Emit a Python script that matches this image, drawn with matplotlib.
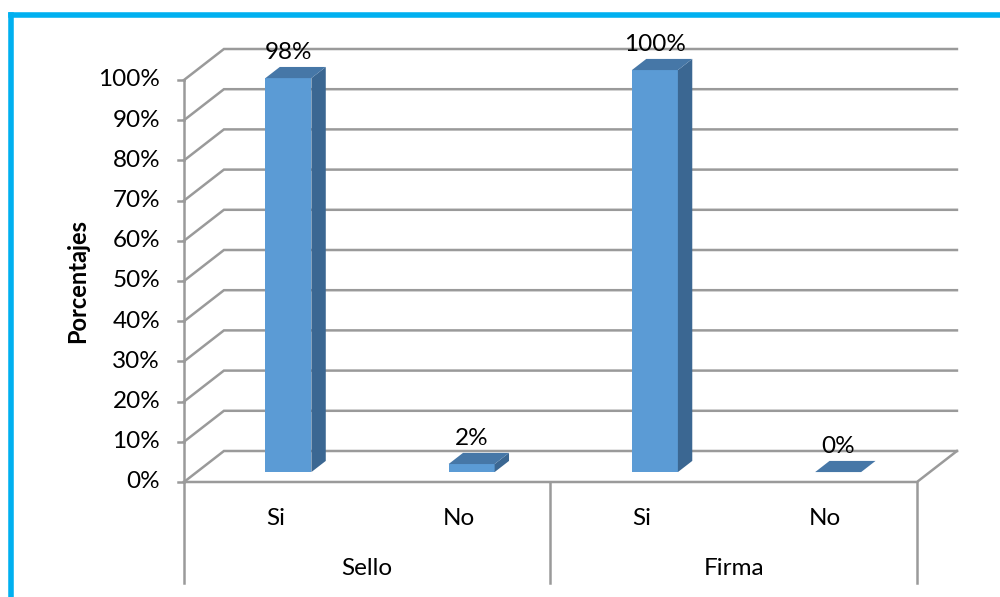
import matplotlib.pyplot as plt
from matplotlib.patches import Polygon
from matplotlib.lines import Line2D

# datos de la encuesta
grupos = ["Sello", "Firma"]
respuestas = ["Si", "No"]
porcentajes = [98, 2, 100, 0]
etiquetas = ["98%", "2%", "100%", "0%"]
ticks_y = list(range(0, 101, 10))

plt.rcParams['font.family'] = ['Lato', 'DejaVu Sans']

# profundidad de la perspectiva (unidades de categoria / porcentaje)
DX, DY = 0.218, 7.71
F0, F1 = 0.32, 0.68
ANCHO = 0.251
GRIS = '#9a9a9a'
FRENTE, LADO, TAPA = '#5b9bd5', '#3b6792', '#4677a7'
FS = 17.5

fig = plt.figure(figsize=(10, 5.97), dpi=100)
ax = fig.add_axes([0, 0, 1, 1])
ax.set_xlim(-1.004, 4.453)
ax.set_ylim(-28.61, 119.9)
ax.axis('off')

n = len(porcentajes)

# pared del fondo y suelo
for t in ticks_y:
    ax.plot([0, DX, n + DX], [t, t + DY, t + DY], color=GRIS, lw=1.8,
            solid_joinstyle='miter', zorder=1)
    ax.plot([-0.035, 0], [t, t], color=GRIS, lw=1.8, zorder=1)
    ax.text(-0.13, t, f"{t}%", ha='right', va='center', fontsize=FS)
ax.plot([0, n, n + DX], [0, 0, DY], color=GRIS, lw=1.8, zorder=1)
ax.plot([0, 0], [100, -25.1], color=GRIS, lw=1.8, zorder=1)
for x in (2, 4):
    ax.plot([x, x], [0, -25.1], color=GRIS, lw=1.8, zorder=1)

# columnas 3D
for i, v in enumerate(porcentajes):
    c = i + 0.5
    x0 = c - ANCHO / 2 + F0 * DX
    x1 = c + ANCHO / 2 + F0 * DX
    y0 = F0 * DY
    ddx, ddy = (F1 - F0) * DX, (F1 - F0) * DY
    if v > 0:
        ax.add_patch(Polygon([(x0, y0), (x1, y0), (x1, y0 + v), (x0, y0 + v)],
                             closed=True, fc=FRENTE, ec='none', zorder=3))
        ax.add_patch(Polygon([(x1, y0), (x1 + ddx, y0 + ddy),
                              (x1 + ddx, y0 + ddy + v), (x1, y0 + v)],
                             closed=True, fc=LADO, ec='none', zorder=3))
    ax.add_patch(Polygon([(x0, y0 + v), (x1, y0 + v), (x1 + ddx, y0 + v + ddy),
                          (x0 + ddx, y0 + v + ddy)],
                         closed=True, fc=TAPA, ec='none', zorder=4))
    ax.text(c + F0 * DX, v + F1 * DY + 1.0, etiquetas[i], ha='center',
            va='bottom', fontsize=FS, zorder=5)
    ax.text(c, -8.96, respuestas[i % 2], ha='center', va='center', fontsize=FS)

for g, nombre in enumerate(grupos):
    ax.text(2 * g + 1, -21.4, nombre, ha='center', va='center', fontsize=FS)

ax.text(-0.58, 50, "Porcentajes", rotation=90, ha='center', va='center',
        fontsize=17, fontweight='bold')

# marco
fig.add_artist(Line2D([0.011, 0.011], [-0.02, 1 - 14.5 / 597], color='#00b0f0',
                      lw=4, transform=fig.transFigure, solid_capstyle='projecting'))
fig.add_artist(Line2D([0.011, 1.02], [1 - 14.5 / 597, 1 - 14.5 / 597],
                      color='#00b0f0', lw=4, transform=fig.transFigure,
                      solid_capstyle='projecting'))

fig.savefig('out.png', dpi=100)
